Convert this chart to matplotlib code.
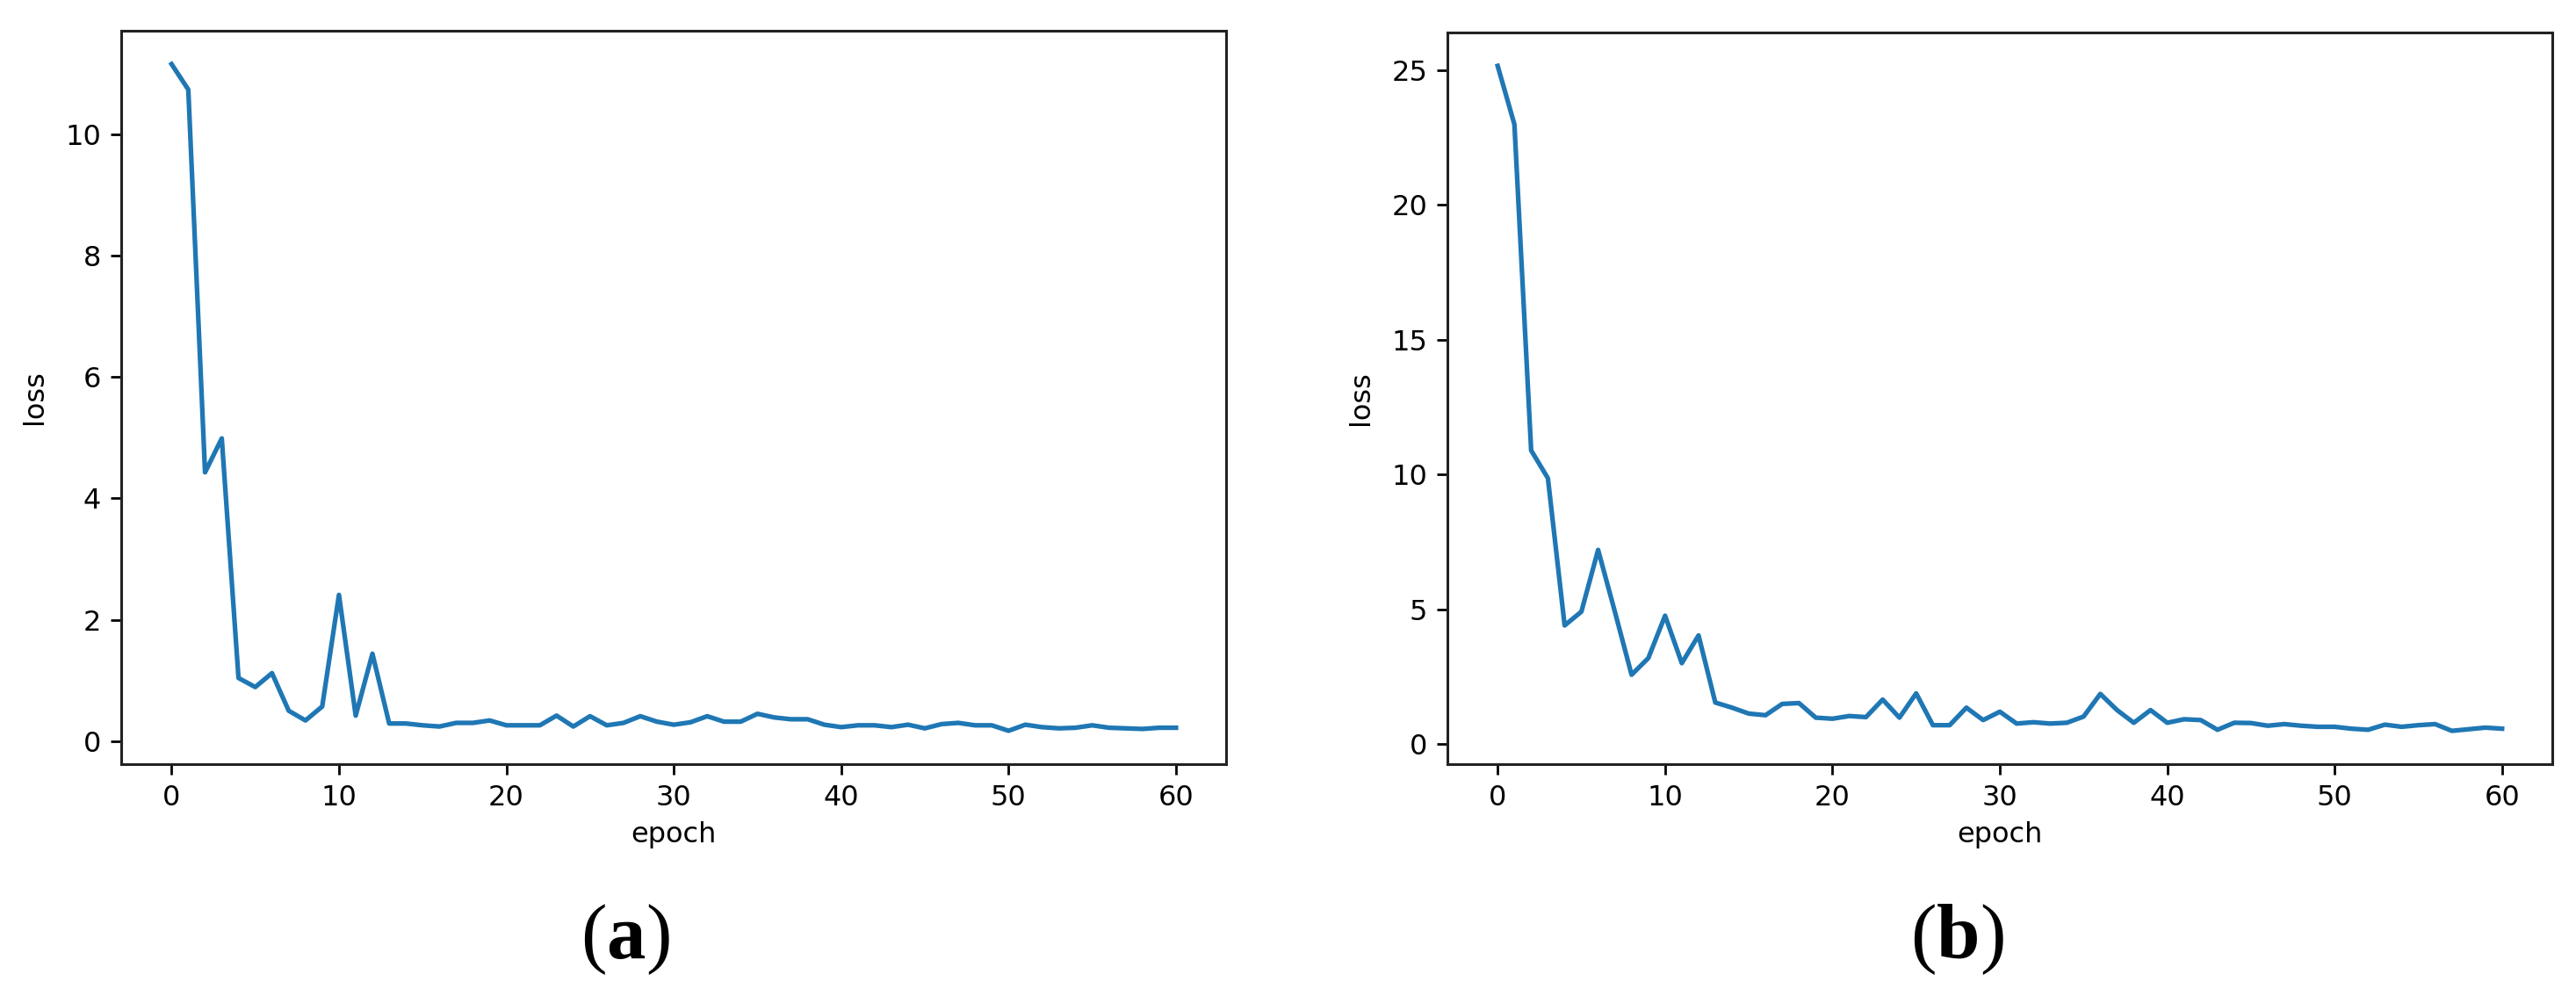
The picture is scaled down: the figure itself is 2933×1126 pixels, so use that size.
import matplotlib
matplotlib.use("Agg")
from matplotlib import pyplot as plt

# loss per epoch
epochs = list(range(61))

loss_a = [11.16, 10.74, 4.43, 4.99, 1.04, 0.89, 1.12, 0.50, 0.34, 0.57,
          2.41, 0.42, 1.44, 0.29, 0.29, 0.26, 0.24, 0.30, 0.30, 0.34,
          0.26, 0.26, 0.26, 0.42, 0.24, 0.41, 0.26, 0.30, 0.41, 0.32,
          0.27, 0.31, 0.41, 0.32, 0.32, 0.45, 0.39, 0.36, 0.36, 0.27,
          0.23, 0.26, 0.26, 0.23, 0.27, 0.21, 0.28, 0.30, 0.26, 0.26,
          0.17, 0.27, 0.23, 0.21, 0.22, 0.26, 0.22, 0.21, 0.20, 0.22,
          0.22]

loss_b = [25.16, 22.99, 10.90, 9.87, 4.41, 4.92, 7.21, 4.92, 2.58, 3.20,
          4.77, 3.01, 4.04, 1.55, 1.36, 1.14, 1.08, 1.50, 1.53, 0.99,
          0.95, 1.05, 1.01, 1.66, 0.99, 1.89, 0.71, 0.71, 1.36, 0.90,
          1.21, 0.77, 0.82, 0.77, 0.80, 1.03, 1.87, 1.27, 0.80, 1.27,
          0.80, 0.93, 0.90, 0.54, 0.80, 0.79, 0.69, 0.75, 0.69, 0.65,
          0.65, 0.58, 0.54, 0.73, 0.65, 0.71, 0.75, 0.50, 0.56, 0.62,
          0.58]

x_ticks = [0, 10, 20, 30, 40, 50, 60]
y_ticks_a = [0, 2, 4, 6, 8, 10]
y_ticks_b = [0, 5, 10, 15, 20, 25]
panel_labels = ["a", "b"]

plt.rcParams['mathtext.fontset'] = 'custom'
plt.rcParams['mathtext.rm'] = 'Liberation Serif'
plt.rcParams['mathtext.bf'] = 'Liberation Serif:bold'


def draw_panel(ax, values, y_ticks):
    ax.plot(epochs, values, color='#1f77b4', linewidth=3.8)
    ax.set_xticks(x_ticks)
    ax.set_yticks(y_ticks)
    ax.set_xlabel('epoch', fontsize=23, labelpad=8)
    ax.set_ylabel('loss', fontsize=23, labelpad=14)
    ax.tick_params(labelsize=23, length=8.5, width=2, pad=8)
    for side in ax.spines.values():
        side.set_linewidth(2.2)
        side.set_color('#222222')


fig = plt.figure(figsize=(29.33, 11.26), dpi=100)
ax1 = fig.add_axes([0.0471, 0.2274, 0.4289, 0.7415])
ax2 = fig.add_axes([0.5619, 0.2274, 0.4289, 0.7396])

draw_panel(ax1, loss_a, y_ticks_a)
draw_panel(ax2, loss_b, y_ticks_b)

# panel captions: regular brackets, bold letter
for xc, lab in zip([0.2427, 0.7596], panel_labels):
    fig.text(xc, 1 - 1070 / 1126, r'($\mathbf{' + lab + r'}$)',
             fontsize=64, family='Liberation Serif', ha='center', va='center')

fig.savefig('out.png', dpi=100)
